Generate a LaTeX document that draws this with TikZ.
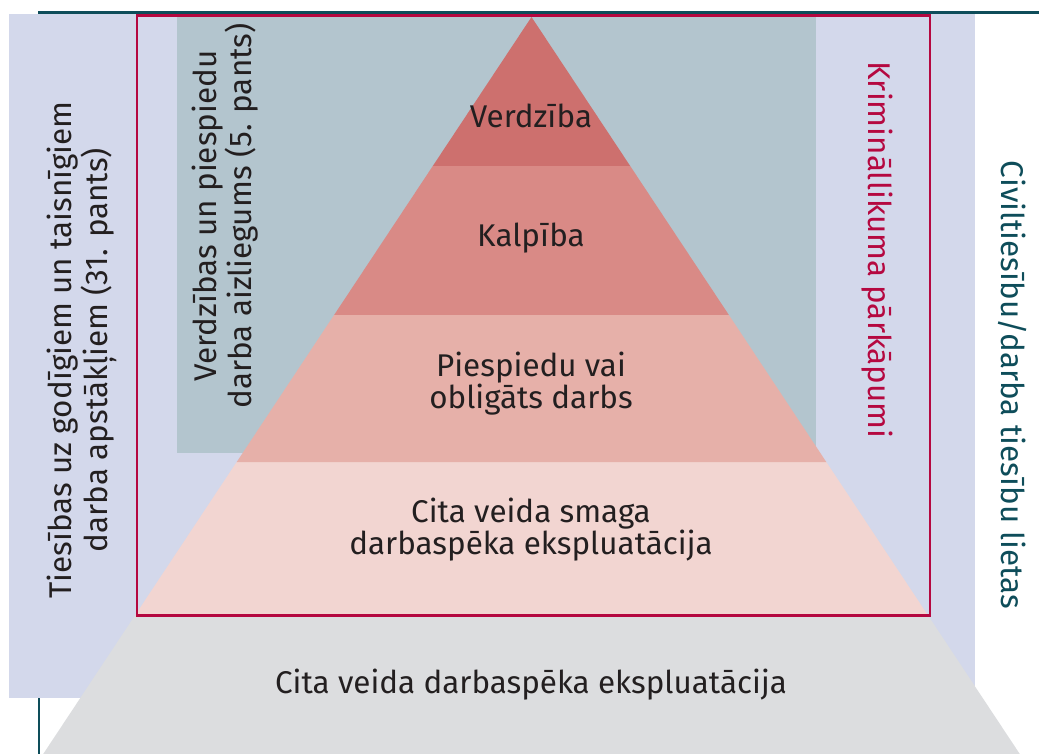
\documentclass[tikz,border=0pt]{standalone}
\usepackage{fontspec}
\setmainfont{Fira Sans}
\definecolor{lavender1}{RGB}{211, 216, 235}
\definecolor{slate1}{RGB}{179, 197, 206}
\definecolor{crimson1}{RGB}{181, 8, 64}
\definecolor{teal1}{RGB}{14, 77, 90}
\definecolor{tier1}{RGB}{205, 112, 110}
\definecolor{tier2}{RGB}{217, 138, 134}
\definecolor{tier3}{RGB}{230, 176, 169}
\definecolor{tier4}{RGB}{242, 213, 209}
\definecolor{tier5}{RGB}{220, 221, 223}
\definecolor{ink}{RGB}{35, 31, 32}
\usetikzlibrary{calc}

\begin{document}
\begin{tikzpicture}[x=0.5pt, y=-0.5pt,
  tiertext/.style={font=\fontsize{15.7}{16}\selectfont, text=ink, align=center, inner sep=0pt},
  sidetext/.style={tiertext, rotate=90},
  lawtext/.style={tiertext, rotate=-90}]
  \useasboundingbox (0, 0) rectangle (1039, 754);

  % frame and background bands
  \draw[teal1, line width=1.25pt] (39, 754) -- (39, 12.5) -- (1039, 12.5);
  \fill[lavender1] (9, 14) rectangle (975, 698);
  \fill[slate1] (177, 16) rectangle (816, 453);

  % pyramid tiers
  \coordinate (apex) at (531.5, 17);
  \fill[tier5] (135.3, 615) -- (927.7, 615) -- (1019.8, 754) -- (43.2, 754) -- cycle;
  \fill[tier4] (236.7, 462) -- (826.3, 462) -- (927.7, 615) -- (135.3, 615) -- cycle;
  \fill[tier3] (334.1, 315) -- (728.9, 315) -- (826.3, 462) -- (236.7, 462) -- cycle;
  \fill[tier2] (432.8, 166) -- (630.2, 166) -- (728.9, 315) -- (334.1, 315) -- cycle;
  \fill[tier1] (apex) -- (630.2, 166) -- (432.8, 166) -- cycle;

  \draw[crimson1, line width=1.4pt] (137, 15.5) rectangle (930, 615.5);

  \node[tiertext] (verdziba) at (531, 116) {Verdzība};
  \node[tiertext] (kalpiba) at (531, 238) {Kalpība};
  \node[tiertext] (piespiedu) at (531, 384) {Piespiedu vai\\obligāts darbs};
  \node[tiertext] (smaga) at (531, 530) {Cita veida smaga\\darbaspēka ekspluatācija};
  \node[tiertext] (cita) at (531, 685) {Cita veida darbaspēka ekspluatācija};

  \node[sidetext] (tiesibas) at (82, 350) {Tiesības uz godīgiem un taisnīgiem\\darba apstākļiem (31. pants)};
  \node[sidetext] (aizliegums) at (225, 216) {Verdzības un piespiedu\\darba aizliegums (5. pants)};
  \node[lawtext, text=crimson1] (krimin) at (877, 250) {Krimināllikuma pārkāpumi};
  \node[lawtext, text=teal1] (civil) at (1013, 385) {Civiltiesību/darba tiesību lietas};
\end{tikzpicture}
\end{document}
